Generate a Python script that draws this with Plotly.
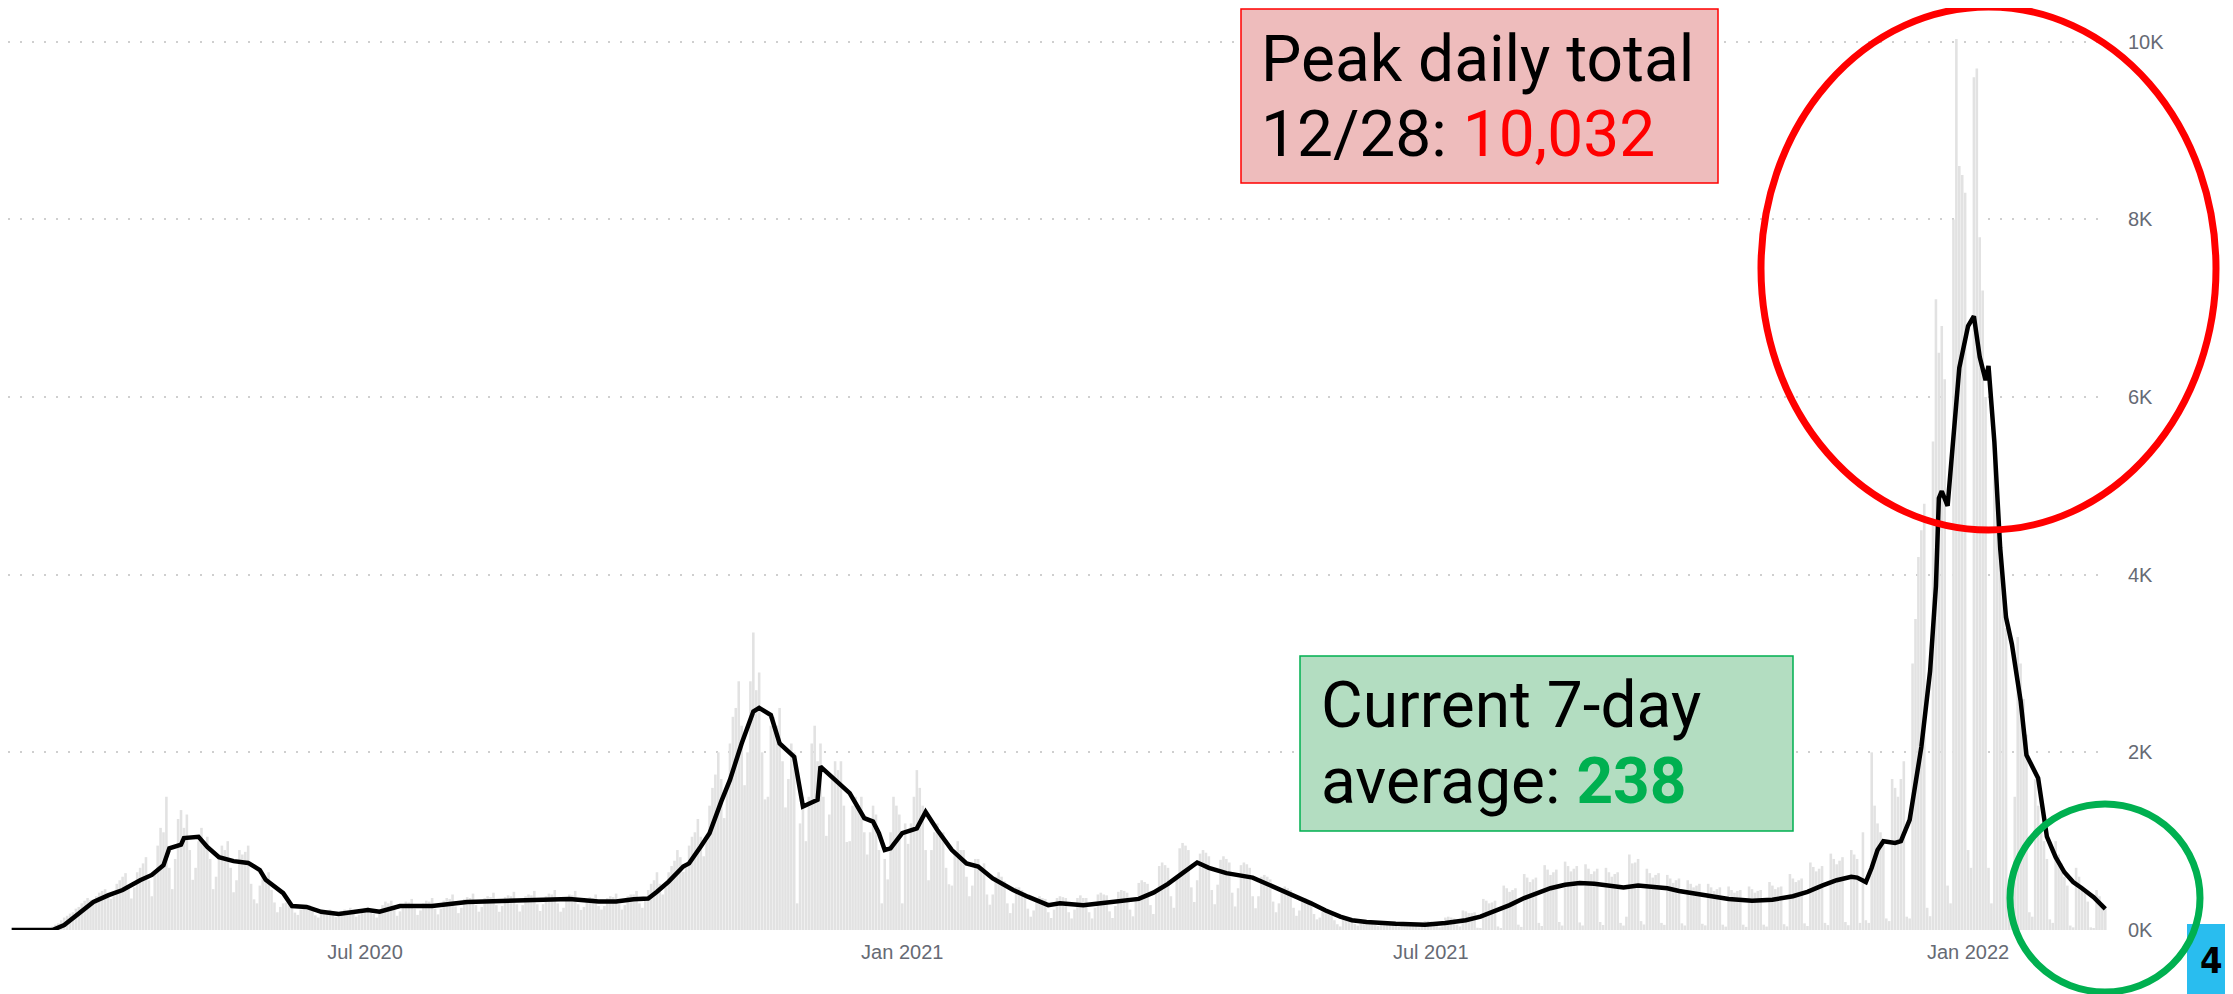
import plotly.graph_objects as go
import pandas as pd

# ---------------- data ----------------
start_date = "2020-03-02"
daily_cases = [
    0, 0, 0, 0, 0, 0, 0,
    0, 0, 1, 2, 3, 5, 8,
    40, 60, 75, 110, 140, 160, 185,
    200, 240, 260, 300, 330, 360, 340,
    330, 380, 420, 440, 460, 420, 350,
    380, 520, 560, 600, 640, 480, 355,
    480, 650, 700, 750, 820, 560, 380,
    650, 950, 1150, 1100, 1500, 700, 460,
    800, 1250, 1350, 1150, 1300, 900, 565,
    700, 1000, 1150, 1000, 1050, 800, 460,
    600, 850, 950, 900, 1000, 700, 425,
    560, 900, 850, 880, 950, 520, 345,
    300, 500, 620, 600, 650, 450, 310,
    200, 260, 300, 310, 340, 270, 196,
    170, 230, 260, 250, 280, 220, 165,
    140, 190, 210, 200, 230, 180, 145,
    150, 210, 230, 220, 250, 190, 150,
    170, 230, 250, 260, 240, 180, 140,
    200, 280, 320, 300, 330, 230, 160,
    210, 290, 320, 310, 350, 240, 170,
    220, 300, 330, 320, 360, 240, 176,
    240, 330, 360, 350, 400, 265, 190,
    250, 350, 370, 360, 410, 280, 206,
    260, 360, 380, 370, 420, 280, 205,
    270, 370, 390, 380, 430, 290, 208,
    280, 380, 400, 390, 440, 290, 214,
    290, 380, 410, 400, 450, 300, 206,
    250, 370, 400, 390, 440, 290, 226,
    260, 350, 370, 360, 400, 270, 230,
    270, 360, 380, 370, 410, 290, 230,
    280, 380, 400, 400, 440, 300, 250,
    330, 450, 520, 560, 650, 520, 400,
    480, 650, 720, 780, 900, 820, 655,
    700, 950, 1050, 1100, 1250, 1050, 830,
    1000, 1400, 1600, 1750, 2000, 1700, 1260,
    1600, 2100, 2400, 2500, 2800, 2300, 1630,
    2000, 2800, 3350, 2700, 2900, 2000, 1470,
    1500, 2300, 2400, 2300, 2500, 1900, 1380,
    1700, 2100, 2000, 300, 1200, 1500, 1000,
    1500, 2100, 2300, 1900, 2100, 1500, 1060,
    1300, 1700, 1900, 1800, 1900, 1400, 990,
    1000, 1400, 1500, 1400, 1500, 1100, 850,
    1100, 1400, 1300, 900, 300, 800, 570,
    1100, 1500, 1400, 1300, 300, 1200, 970,
    1200, 1500, 1800, 1600, 1400, 900, 560,
    900, 1100, 1200, 1100, 1100, 700, 515,
    500, 900, 1000, 900, 900, 600, 380,
    500, 800, 800, 700, 750, 400, 285,
    400, 600, 650, 600, 550, 300, 190,
    300, 480, 480, 450, 420, 240, 150,
    220, 350, 380, 360, 350, 200, 135,
    230, 360, 380, 370, 360, 200, 130,
    230, 360, 390, 360, 360, 200, 130,
    250, 400, 420, 400, 390, 210, 135,
    270, 430, 450, 440, 420, 230, 154,
    330, 530, 560, 540, 520, 280, 180,
    450, 720, 760, 730, 700, 380, 250,
    600, 920, 980, 950, 900, 480, 315,
    560, 860, 900, 870, 830, 450, 290,
    510, 790, 830, 800, 760, 420, 265,
    470, 730, 760, 740, 700, 380, 245,
    380, 600, 620, 600, 570, 320, 200,
    300, 470, 490, 470, 450, 250, 160,
    220, 340, 360, 340, 330, 180, 120,
    140, 210, 220, 210, 200, 110, 65,
    40, 140, 140, 130, 130, 70, 50,
    70, 110, 110, 100, 100, 60, 45,
    60, 90, 90, 85, 80, 50, 35,
    50, 80, 80, 75, 75, 45, 29,
    60, 100, 100, 95, 90, 50, 30,
    40, 140, 150, 140, 130, 60, 40,
    220, 210, 190, 190, 200, 25, 15,
    350, 330, 300, 310, 330, 40, 20,
    500, 470, 430, 450, 470, 60, 35,
    630, 590, 540, 570, 590, 80, 45,
    730, 680, 620, 650, 680, 90, 50,
    770, 720, 660, 690, 720, 85, 51,
    740, 690, 630, 660, 690, 90, 56,
    700, 650, 600, 630, 650, 80, 50,
    150, 850, 750, 760, 800, 100, 62,
    690, 640, 590, 620, 640, 80, 58,
    620, 580, 530, 560, 580, 75, 51,
    560, 520, 480, 500, 520, 70, 52,
    520, 480, 440, 460, 480, 60, 38,
    490, 450, 420, 440, 450, 60, 35,
    490, 460, 420, 440, 450, 60, 39,
    540, 500, 460, 480, 490, 65, 41,
    630, 580, 540, 560, 580, 75, 45,
    760, 710, 660, 690, 720, 80, 55,
    860, 800, 740, 780, 820, 90, 54,
    900, 850, 800, 80, 1100, 110, 80,
    2000, 1400, 1200, 1100, 1000, 130, 100,
    1700, 1600, 1500, 1700, 1900, 150, 130,
    3000, 3500, 4200, 4500, 4800, 250, 155,
    5500, 7100, 6500, 6800, 6200, 500, 300,
    8000, 10032, 8600, 8500, 8300, 900, 700,
    9600, 9700, 7800, 7200, 6000, 700, 300,
    5500, 5000, 4200, 3800, 3400, 400, 240,
    1500, 3300, 3000, 2600, 2200, 200, 150,
    1700, 1400, 1200, 1000, 800, 120, 80,
    1000, 850, 750, 600, 500, 50, 30,
    700, 600, 500, 420, 320, 30, 20,
    450, 380, 300, 250,
]

avg_dates = [
    "2020-03-02", "2020-03-16", "2020-03-20", "2020-03-25", "2020-03-30",
    "2020-04-04", "2020-04-09", "2020-04-15", "2020-04-19", "2020-04-23", "2020-04-25", "2020-04-29", "2020-04-30",
    "2020-05-05", "2020-05-08", "2020-05-12", "2020-05-17", "2020-05-22", "2020-05-26", "2020-05-28",
    "2020-06-03", "2020-06-06", "2020-06-11", "2020-06-16", "2020-06-22",
    "2020-07-02", "2020-07-06", "2020-07-13", "2020-07-24",
    "2020-08-05", "2020-08-16", "2020-08-28",
    "2020-09-09", "2020-09-19", "2020-09-25",
    "2020-10-01", "2020-10-06", "2020-10-09", "2020-10-13", "2020-10-18", "2020-10-20", "2020-10-24", "2020-10-27", "2020-10-31",
    "2020-11-03", "2020-11-07", "2020-11-11", "2020-11-13", "2020-11-17", "2020-11-20", "2020-11-23", "2020-11-25", "2020-11-28",
    "2020-12-03", "2020-12-04", "2020-12-08", "2020-12-14", "2020-12-19", "2020-12-22", "2020-12-24", "2020-12-26", "2020-12-28",
    "2021-01-01", "2021-01-06", "2021-01-09", "2021-01-13", "2021-01-18", "2021-01-23", "2021-01-27",
    "2021-02-01", "2021-02-08", "2021-02-13", "2021-02-20", "2021-02-24",
    "2021-03-04", "2021-03-10", "2021-03-23", "2021-03-28",
    "2021-04-02", "2021-04-07", "2021-04-12", "2021-04-16", "2021-04-22",
    "2021-05-01", "2021-05-06", "2021-05-11", "2021-05-16", "2021-05-21", "2021-05-26", "2021-05-31",
    "2021-06-04", "2021-06-09", "2021-06-19", "2021-06-29",
    "2021-07-06", "2021-07-13", "2021-07-18", "2021-07-23", "2021-07-28",
    "2021-08-02", "2021-08-07", "2021-08-11", "2021-08-16", "2021-08-21", "2021-08-26", "2021-08-31",
    "2021-09-05", "2021-09-10", "2021-09-15", "2021-09-20", "2021-09-24", "2021-09-29",
    "2021-10-04", "2021-10-11", "2021-10-19", "2021-10-26",
    "2021-11-02", "2021-11-07", "2021-11-12", "2021-11-17", "2021-11-22", "2021-11-24", "2021-11-27", "2021-11-29",
    "2021-12-01", "2021-12-03", "2021-12-07", "2021-12-09", "2021-12-12", "2021-12-16", "2021-12-19", "2021-12-21",
    "2021-12-22", "2021-12-23", "2021-12-25", "2021-12-27", "2021-12-29",
    "2022-01-01", "2022-01-03", "2022-01-05", "2022-01-07", "2022-01-08", "2022-01-10", "2022-01-12", "2022-01-14",
    "2022-01-16", "2022-01-19", "2022-01-21", "2022-01-25", "2022-01-28", "2022-01-31",
    "2022-02-03", "2022-02-06", "2022-02-09", "2022-02-13", "2022-02-17",
]
avg_values = [
    0, 0, 55, 190, 315,
    390, 450, 560, 620, 730, 920, 960, 1035,
    1050, 935, 820, 775, 755, 675, 565,
    415, 270, 260, 205, 180,
    225, 205, 270, 270,
    315, 325, 340,
    350, 320, 320,
    345, 355, 430, 545, 715, 750, 940, 1090, 1445,
    1690, 2100, 2460, 2500, 2420, 2100, 2010, 1950, 1390,
    1465, 1840, 1725, 1540, 1260, 1220, 1090, 900, 920,
    1090, 1145, 1330, 1125, 900, 750, 715,
    580, 450, 375, 280, 300,
    280, 300, 350, 420,
    520, 640, 760, 700, 640,
    590, 520, 440, 370, 300, 220, 150,
    110, 90, 70, 60,
    80, 110, 150, 210, 280,
    360, 420, 470, 510, 530, 520, 500,
    480, 500, 490, 470, 440, 410,
    380, 350, 330, 340,
    380, 430, 500, 560, 600, 590, 540, 700,
    900, 1000, 980, 1000, 1240, 2060, 2915, 3870,
    4860, 4940, 4775, 5600, 6330,
    6800, 6910, 6450, 6190, 6350, 5500, 4300, 3520,
    3220, 2580, 1970, 1710, 1050, 820,
    650, 540, 470, 370, 238,
]

x_tick_vals = ["2020-07-01", "2021-01-01", "2021-07-01", "2022-01-01"]
x_tick_text = ["Jul 2020", "Jan 2021", "Jul 2021", "Jan 2022"]
y_tick_vals = [0, 2000, 4000, 6000, 8000, 10000]
y_tick_text = ["0K", "2K", "4K", "6K", "8K", "10K"]

peak_date_label = "12/28"
peak_value_label = "10,032"
current_avg_label = "238"

# ---------------- layout geometry (screen pixels) ----------------
SCREEN_W, SCREEN_H = 2233, 994
OFF = 8                      # default page body margin
W, H = SCREEN_W - OFF, SCREEN_H - OFF
PLOT_L, PLOT_R, PLOT_T, PLOT_B = 8, 2107, 24, 930   # screen coords of plot area
ML, MT = PLOT_L - OFF, PLOT_T - OFF
MR = W - (PLOT_R - OFF)
MB = H - (PLOT_B - OFF)
PW = PLOT_R - PLOT_L
PH = PLOT_B - PLOT_T


def px(x):
    return (x - PLOT_L) / PW


def py(y):
    return (PLOT_B - y) / PH


dates = pd.date_range(start_date, periods=len(daily_cases), freq="D")

fig = go.Figure()
fig.add_trace(go.Bar(
    x=dates, y=daily_cases,
    marker=dict(color="#E2E2E2", line=dict(width=0)),
    hoverinfo="skip", showlegend=False,
))
fig.add_trace(go.Scatter(
    x=avg_dates, y=avg_values, mode="lines",
    line=dict(color="#000000", width=4.5),
    hoverinfo="skip", showlegend=False,
))

tick_font = dict(family="Liberation Sans, Arial, sans-serif", size=20, color="#666a74")

fig.update_layout(
    width=W, height=H,
    margin=dict(l=ML, r=MR, t=MT, b=MB, autoexpand=False),
    paper_bgcolor="white", plot_bgcolor="white",
    bargap=0.12,
    showlegend=False,
    xaxis=dict(
        type="date",
        range=["2020-02-29 18:00", "2022-02-17 14:00"],
        tickvals=x_tick_vals, ticktext=x_tick_text,
        tickfont=tick_font, showgrid=False, zeroline=False,
        showline=False, ticks="", ticklabelstandoff=8,
    ),
    yaxis=dict(
        side="right",
        range=[0, 10200],
        tickvals=y_tick_vals, ticktext=y_tick_text,
        tickfont=tick_font,
        showgrid=True, gridcolor="#cfcfcf", gridwidth=2, griddash="2px,10px",
        zeroline=False, showline=False, ticks="", ticklabelstandoff=20,
    ),
)

shapes = []
# red text box
shapes.append(dict(type="rect", xref="paper", yref="paper",
                   x0=px(1241), x1=px(1718), y0=py(183), y1=py(9),
                   fillcolor="#EEBCBC", line=dict(color="#FF0000", width=1.5), layer="above"))
# green text box
shapes.append(dict(type="rect", xref="paper", yref="paper",
                   x0=px(1300), x1=px(1793), y0=py(831), y1=py(656),
                   fillcolor="#B3DDC1", line=dict(color="#00B050", width=1.5), layer="above"))
# red ellipse
shapes.append(dict(type="circle", xref="paper", yref="paper",
                   x0=px(1761), x1=px(2216), y0=py(530), y1=py(7),
                   line=dict(color="#FF0000", width=7), layer="above"))
# blue page-number box
shapes.append(dict(type="rect", xref="paper", yref="paper",
                   x0=px(2187), x1=px(2240), y0=py(1000), y1=py(924),
                   fillcolor="#29BDEF", line=dict(width=0), layer="above"))
# green circle
shapes.append(dict(type="circle", xref="paper", yref="paper",
                   x0=px(2010), x1=px(2200), y0=py(992), y1=py(804),
                   line=dict(color="#00B050", width=7), layer="above"))
fig.update_layout(shapes=shapes)

box_font = dict(family="Roboto, sans-serif", size=64, color="#000000")
anns = [
    dict(text="Peak daily total", x=px(1259), y=py(60), xanchor="left", yanchor="middle"),
    dict(text=f"{peak_date_label}: <span style='color:#FF0000'>{peak_value_label}</span>",
         x=px(1259), y=py(135), xanchor="left", yanchor="middle"),
    dict(text="Current 7-day", x=px(1319), y=py(705), xanchor="left", yanchor="middle"),
    dict(text=f"average: <span style='color:#00B050'><b>{current_avg_label}</b></span>",
         x=px(1319), y=py(781), xanchor="left", yanchor="middle"),
]
for a in anns:
    a.update(xref="paper", yref="paper", showarrow=False, font=box_font, align="left")
anns.append(dict(text="<b>4</b>", x=px(2211), y=py(960), xref="paper", yref="paper",
                 xanchor="center", yanchor="middle", showarrow=False,
                 font=dict(family="Liberation Sans Narrow, DejaVu Sans Condensed, sans-serif",
                           size=36, color="#000000")))
fig.update_layout(annotations=anns)

fig.write_html("out.html", config={"displayModeBar": False})
